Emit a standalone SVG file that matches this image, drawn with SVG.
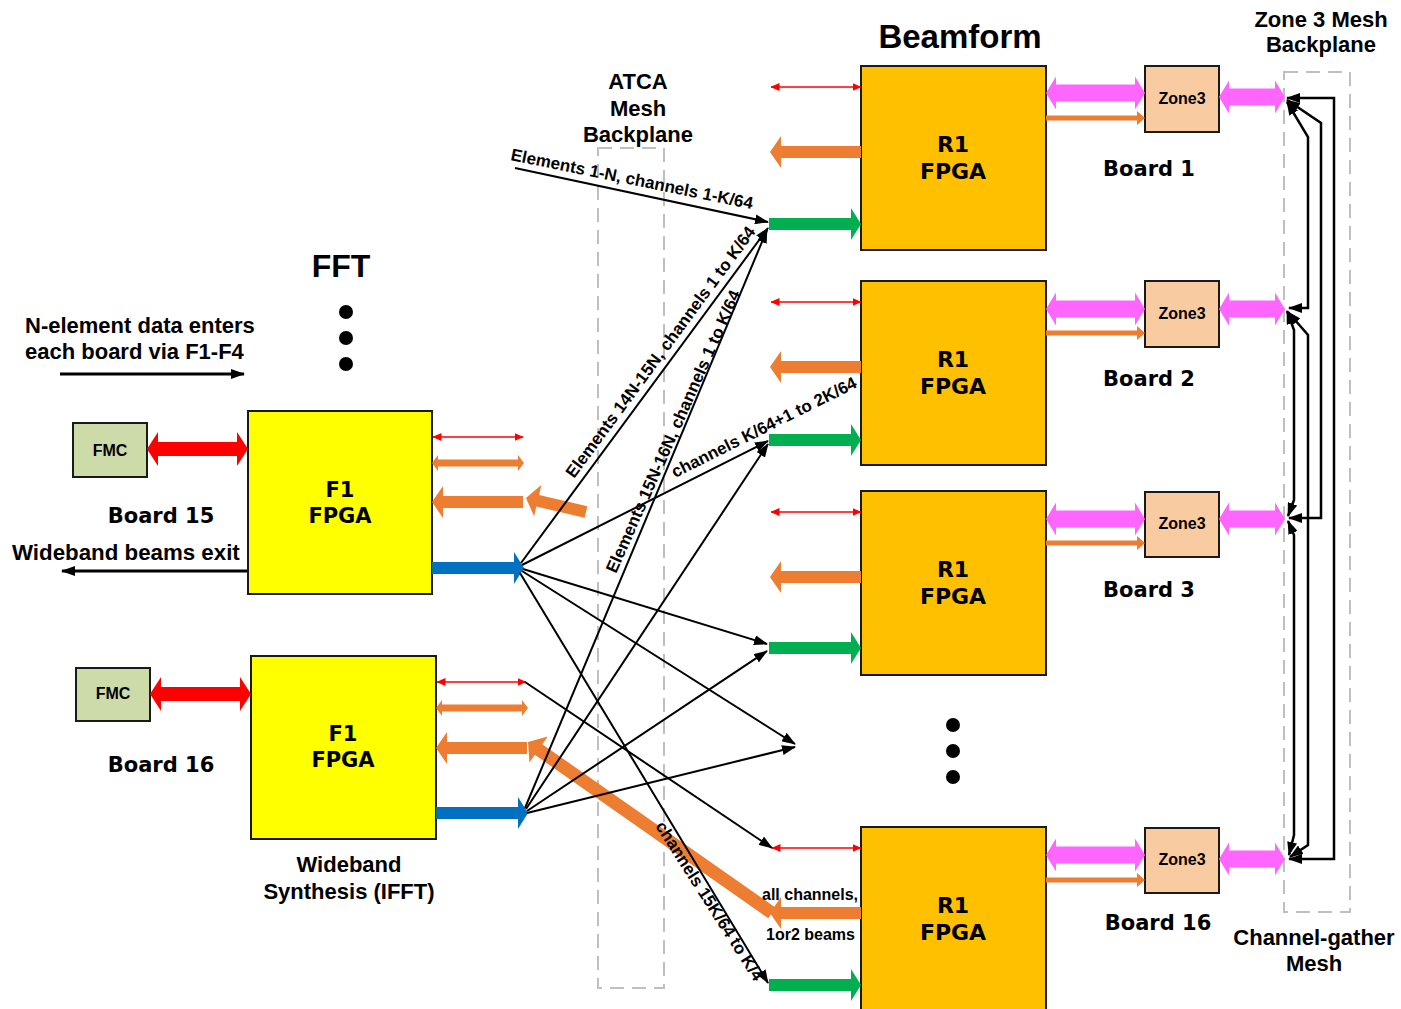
<svg xmlns="http://www.w3.org/2000/svg" width="1401" height="1009" viewBox="0 0 1401 1009">
<defs>
<style>
.t{font-family:"Liberation Sans",Arial,sans-serif;font-weight:bold;fill:#000}
.h{font-family:"DejaVu Sans","Liberation Sans",sans-serif;font-weight:bold;fill:#000}
.box{stroke:#1a1a1a;stroke-width:2}
.ln{stroke:#000;stroke-width:2;fill:none}
.thick{stroke:#000;stroke-width:3;fill:none}
.mesh{stroke:#000;stroke-width:2.5;fill:none}
.rl{stroke:#FF0000;stroke-width:1.5}
.dash{fill:none;stroke:#BFBFBF;stroke-width:2;stroke-dasharray:14 8}
.or{fill:#ED7D31}.gr{fill:#00B050}.bl{fill:#0070C0}.pk{fill:#FF66FF}.rd{fill:#FF0000}
</style>
<marker id="ah" markerUnits="userSpaceOnUse" viewBox="0 0 14 10" markerWidth="14" markerHeight="10" refX="13" refY="5" orient="auto-start-reverse"><path d="M0,0 L14,5 L0,10 Z" fill="#000"/></marker>
<marker id="rh" markerUnits="userSpaceOnUse" viewBox="0 0 9 8" markerWidth="9" markerHeight="8" refX="8.5" refY="4" orient="auto-start-reverse"><path d="M0,0 L9,4 L0,8 Z" fill="#FF0000"/></marker>
<path id="pkA" d="M0,0 L10,-16.5 L10,-8.5 L89,-8.5 L89,-16.5 L99,0 L89,16.5 L89,8.5 L10,8.5 L10,16.5 Z"/>
<path id="pkB" d="M0,0 L10,-16.5 L10,-8.5 L56,-8.5 L56,-16.5 L66,0 L56,16.5 L56,8.5 L10,8.5 L10,16.5 Z"/>
<path id="orT" d="M0,-2.5 L91,-2.5 L91,-7 L99,0 L91,7 L91,2.5 L0,2.5 Z"/>
<path id="grA" d="M0,-6 L82,-6 L82,-16 L92,0 L82,16 L82,6 L0,6 Z"/>
<path id="orL" d="M0,0 L11,-16 L11,-6 L91,-6 L91,6 L11,6 L11,16 Z"/>
<path id="orM" d="M0,0 L6,-8 L6,-3.5 L86,-3.5 L86,-8 L92,0 L86,8 L86,3.5 L6,3.5 L6,8 Z"/>
<path id="rdT" d="M0,0 L11,-17 L11,-7 L90,-7 L90,-17 L101,0 L90,17 L90,7 L11,7 L11,17 Z"/>
</defs>
<rect width="1401" height="1009" fill="#fff"/>

<!-- titles and free labels -->
<text class="t" x="960" y="48" font-size="33" text-anchor="middle">Beamform</text>
<text class="t" x="341" y="277" font-size="32" text-anchor="middle">FFT</text>
<text class="t" x="1321" y="27" font-size="22" text-anchor="middle">Zone 3 Mesh</text>
<text class="t" x="1321" y="52" font-size="22" text-anchor="middle">Backplane</text>
<text class="t" x="1314" y="945" font-size="22" text-anchor="middle">Channel-gather</text>
<text class="t" x="1314" y="971" font-size="22" text-anchor="middle">Mesh</text>
<text class="t" x="25" y="333" font-size="22">N-element data enters</text>
<text class="t" x="25" y="359" font-size="22">each board via F1-F4</text>
<text class="t" x="12" y="560" font-size="22.3">Wideband beams exit</text>
<text class="t" x="349" y="872" font-size="22" text-anchor="middle">Wideband</text>
<text class="t" x="349" y="899" font-size="22" text-anchor="middle">Synthesis (IFFT)</text>
<g fill="#000">
<circle cx="346" cy="312" r="7"/><circle cx="346" cy="338" r="7"/><circle cx="346" cy="364" r="7"/>
<circle cx="953" cy="725" r="7"/><circle cx="953" cy="751" r="7"/><circle cx="953" cy="777" r="7"/>
</g>
<line class="thick" x1="60" y1="374" x2="244" y2="374" marker-end="url(#ah)"/>
<line class="thick" x1="247" y1="571" x2="62" y2="571" marker-end="url(#ah)"/>

<!-- backplanes -->
<g id="atca-backplane">
<rect class="dash" x="598" y="148" width="66" height="840"/>
<text class="t" x="638" y="89" font-size="22" text-anchor="middle">ATCA</text>
<text class="t" x="638" y="116" font-size="22" text-anchor="middle">Mesh</text>
<text class="t" x="638" y="142" font-size="22" text-anchor="middle">Backplane</text>
</g>
<g id="zone3-backplane">
<rect class="dash" x="1284" y="72" width="66" height="840"/>
</g>

<!-- FFT boards -->
<g id="fmc-15"><rect class="box" x="73" y="423" width="74" height="54" fill="#CDDBA9"/><text class="t" x="110" y="456" font-size="16" text-anchor="middle">FMC</text></g>
<g id="f1-15"><rect class="box" x="248" y="411" width="184" height="183" fill="#FFFF00"/><text class="h" x="340" y="497" font-size="21" text-anchor="middle">F1</text><text class="h" x="340" y="523" font-size="21" text-anchor="middle">FPGA</text></g>
<text class="h" x="161" y="523" font-size="21" text-anchor="middle">Board 15</text>
<g id="fmc-16"><rect class="box" x="76" y="668" width="74" height="53" fill="#CDDBA9"/><text class="t" x="113" y="699" font-size="16" text-anchor="middle">FMC</text></g>
<g id="f1-16"><rect class="box" x="251" y="656" width="185" height="183" fill="#FFFF00"/><text class="h" x="343" y="741" font-size="21" text-anchor="middle">F1</text><text class="h" x="343" y="767" font-size="21" text-anchor="middle">FPGA</text></g>
<text class="h" x="161" y="772" font-size="21" text-anchor="middle">Board 16</text>

<!-- Beamform boards -->
<g id="r1-b1"><rect class="box" x="861" y="66" width="185" height="184" fill="#FFC000"/><text class="h" x="953" y="152" font-size="22" text-anchor="middle">R1</text><text class="h" x="953" y="179" font-size="22" text-anchor="middle">FPGA</text></g>
<g id="r1-b2"><rect class="box" x="861" y="281" width="185" height="184" fill="#FFC000"/><text class="h" x="953" y="367" font-size="22" text-anchor="middle">R1</text><text class="h" x="953" y="394" font-size="22" text-anchor="middle">FPGA</text></g>
<g id="r1-b3"><rect class="box" x="861" y="491" width="185" height="184" fill="#FFC000"/><text class="h" x="953" y="577" font-size="22" text-anchor="middle">R1</text><text class="h" x="953" y="604" font-size="22" text-anchor="middle">FPGA</text></g>
<g id="r1-b16"><rect class="box" x="861" y="827" width="185" height="200" fill="#FFC000"/><text class="h" x="953" y="913" font-size="22" text-anchor="middle">R1</text><text class="h" x="953" y="940" font-size="22" text-anchor="middle">FPGA</text></g>
<g id="z3-b1"><rect class="box" x="1145" y="66" width="74" height="66" fill="#F9CBA0"/><text class="t" x="1182" y="104" font-size="16" text-anchor="middle">Zone3</text></g>
<g id="z3-b2"><rect class="box" x="1145" y="281" width="74" height="66" fill="#F9CBA0"/><text class="t" x="1182" y="319" font-size="16" text-anchor="middle">Zone3</text></g>
<g id="z3-b3"><rect class="box" x="1145" y="492" width="74" height="65" fill="#F9CBA0"/><text class="t" x="1182" y="529" font-size="16" text-anchor="middle">Zone3</text></g>
<g id="z3-b16"><rect class="box" x="1145" y="828" width="74" height="65" fill="#F9CBA0"/><text class="t" x="1182" y="865" font-size="16" text-anchor="middle">Zone3</text></g>
<text class="h" x="1149" y="176" font-size="21" text-anchor="middle">Board 1</text>
<text class="h" x="1149" y="386" font-size="21" text-anchor="middle">Board 2</text>
<text class="h" x="1149" y="597" font-size="21" text-anchor="middle">Board 3</text>
<text class="h" x="1158" y="930" font-size="21" text-anchor="middle">Board 16</text>

<!-- block arrows -->
<g id="block-arrows">
<use href="#rdT" class="rd" x="147" y="449"/>
<use href="#rdT" class="rd" x="150" y="694"/>
<use href="#orM" class="or" x="432" y="463"/>
<use href="#orM" class="or" x="436" y="708"/>
<use href="#orL" class="or" x="432" y="502"/>
<use href="#orL" class="or" x="436" y="748"/>
<use href="#grA" class="bl" x="432" y="568"/>
<use href="#grA" class="bl" x="436" y="813"/>
<polygon class="or" points="587.4,506.2 539.1,494.9 541.3,485.1 526,498 534.1,516.3 536.3,506.5 584.6,517.8"/>
<polygon class="or" points="775.7,907.7 542.3,744.2 547.8,736.4 528,742 529.4,762.6 534.9,754.8 768.3,918.3"/>
<use href="#orL" class="or" x="770" y="152"/>
<use href="#orL" class="or" x="770" y="367"/>
<use href="#orL" class="or" x="770" y="577"/>
<use href="#orL" class="or" x="770" y="913"/>
<use href="#grA" class="gr" x="769" y="224"/>
<use href="#grA" class="gr" x="769" y="440"/>
<use href="#grA" class="gr" x="769" y="648"/>
<use href="#grA" class="gr" x="769" y="985"/>
<use href="#pkA" class="pk" x="1046" y="93"/>
<use href="#pkA" class="pk" x="1046" y="309"/>
<use href="#pkA" class="pk" x="1046" y="519"/>
<use href="#pkA" class="pk" x="1046" y="855"/>
<use href="#orT" class="or" x="1046" y="118"/>
<use href="#orT" class="or" x="1046" y="333"/>
<use href="#orT" class="or" x="1046" y="543"/>
<use href="#orT" class="or" x="1046" y="880"/>
<use href="#pkB" class="pk" x="1219" y="97"/>
<use href="#pkB" class="pk" x="1219" y="309"/>
<use href="#pkB" class="pk" x="1219" y="519"/>
<use href="#pkB" class="pk" x="1219" y="859"/>
</g>

<!-- connectors -->
<g id="connectors">
<line class="rl" x1="433" y1="437" x2="523" y2="437" marker-start="url(#rh)" marker-end="url(#rh)"/>
<line class="rl" x1="437" y1="682" x2="526" y2="682" marker-start="url(#rh)" marker-end="url(#rh)"/>
<line class="rl" x1="771" y1="87" x2="861" y2="87" marker-start="url(#rh)" marker-end="url(#rh)"/>
<line class="rl" x1="771" y1="302" x2="861" y2="302" marker-start="url(#rh)" marker-end="url(#rh)"/>
<line class="rl" x1="771" y1="512" x2="861" y2="512" marker-start="url(#rh)" marker-end="url(#rh)"/>
<line class="rl" x1="772" y1="848" x2="861" y2="848" marker-start="url(#rh)" marker-end="url(#rh)"/>
<line class="ln" x1="515" y1="168" x2="768" y2="222" marker-end="url(#ah)"/>
<line class="ln" x1="521" y1="563" x2="768" y2="228" marker-end="url(#ah)"/>
<line class="ln" x1="522" y1="565" x2="768" y2="441" marker-end="url(#ah)"/>
<line class="ln" x1="523" y1="569" x2="767" y2="644" marker-end="url(#ah)"/>
<line class="ln" x1="522" y1="571" x2="795" y2="744" marker-end="url(#ah)"/>
<line class="ln" x1="520" y1="573" x2="768" y2="983" marker-end="url(#ah)"/>
<line class="ln" x1="525" y1="808" x2="767" y2="230" marker-end="url(#ah)"/>
<line class="ln" x1="526" y1="809" x2="768" y2="444" marker-end="url(#ah)"/>
<line class="ln" x1="527" y1="811" x2="767" y2="651" marker-end="url(#ah)"/>
<line class="ln" x1="527" y1="813" x2="795" y2="747" marker-end="url(#ah)"/>
<line class="ln" x1="525" y1="682" x2="772" y2="848" marker-end="url(#ah)"/>
<path class="mesh" d="M1287,98 H1334 V859 H1289" marker-start="url(#ah)" marker-end="url(#ah)"/>
<path class="mesh" d="M1287,100 L1321,123 V518 H1289" marker-start="url(#ah)" marker-end="url(#ah)"/>
<path class="mesh" d="M1287,102 L1308,137 V308 H1289" marker-start="url(#ah)" marker-end="url(#ah)"/>
<path class="mesh" d="M1287,311 L1294,330 V500 L1288,516" marker-start="url(#ah)" marker-end="url(#ah)"/>
<path class="mesh" d="M1288,312 L1308,335 V845 L1290,857" marker-start="url(#ah)" marker-end="url(#ah)"/>
<path class="mesh" d="M1288,521 L1294,535 V835 L1289,855" marker-start="url(#ah)" marker-end="url(#ah)"/>
</g>

<!-- connector labels -->
<g class="t" font-size="17">
<text transform="translate(510,160) rotate(11.5)">Elements 1-N, channels 1-K/64</text>
<text transform="translate(574,479) rotate(-53.6)">Elements 14N-15N, channels 1 to K/64</text>
<text transform="translate(616,574) rotate(-66)">Elements 15N-16N, channels 1 to K/64</text>
<text transform="translate(675,478) rotate(-26.5)">channels K/64+1 to 2K/64</text>
<text transform="translate(655,826) rotate(57.5)">channels 15K/64 to K/4</text>
</g>
<text class="t" x="762" y="900" font-size="16">all channels,</text>
<text class="t" x="766" y="940" font-size="16">1or2 beams</text>
</svg>
